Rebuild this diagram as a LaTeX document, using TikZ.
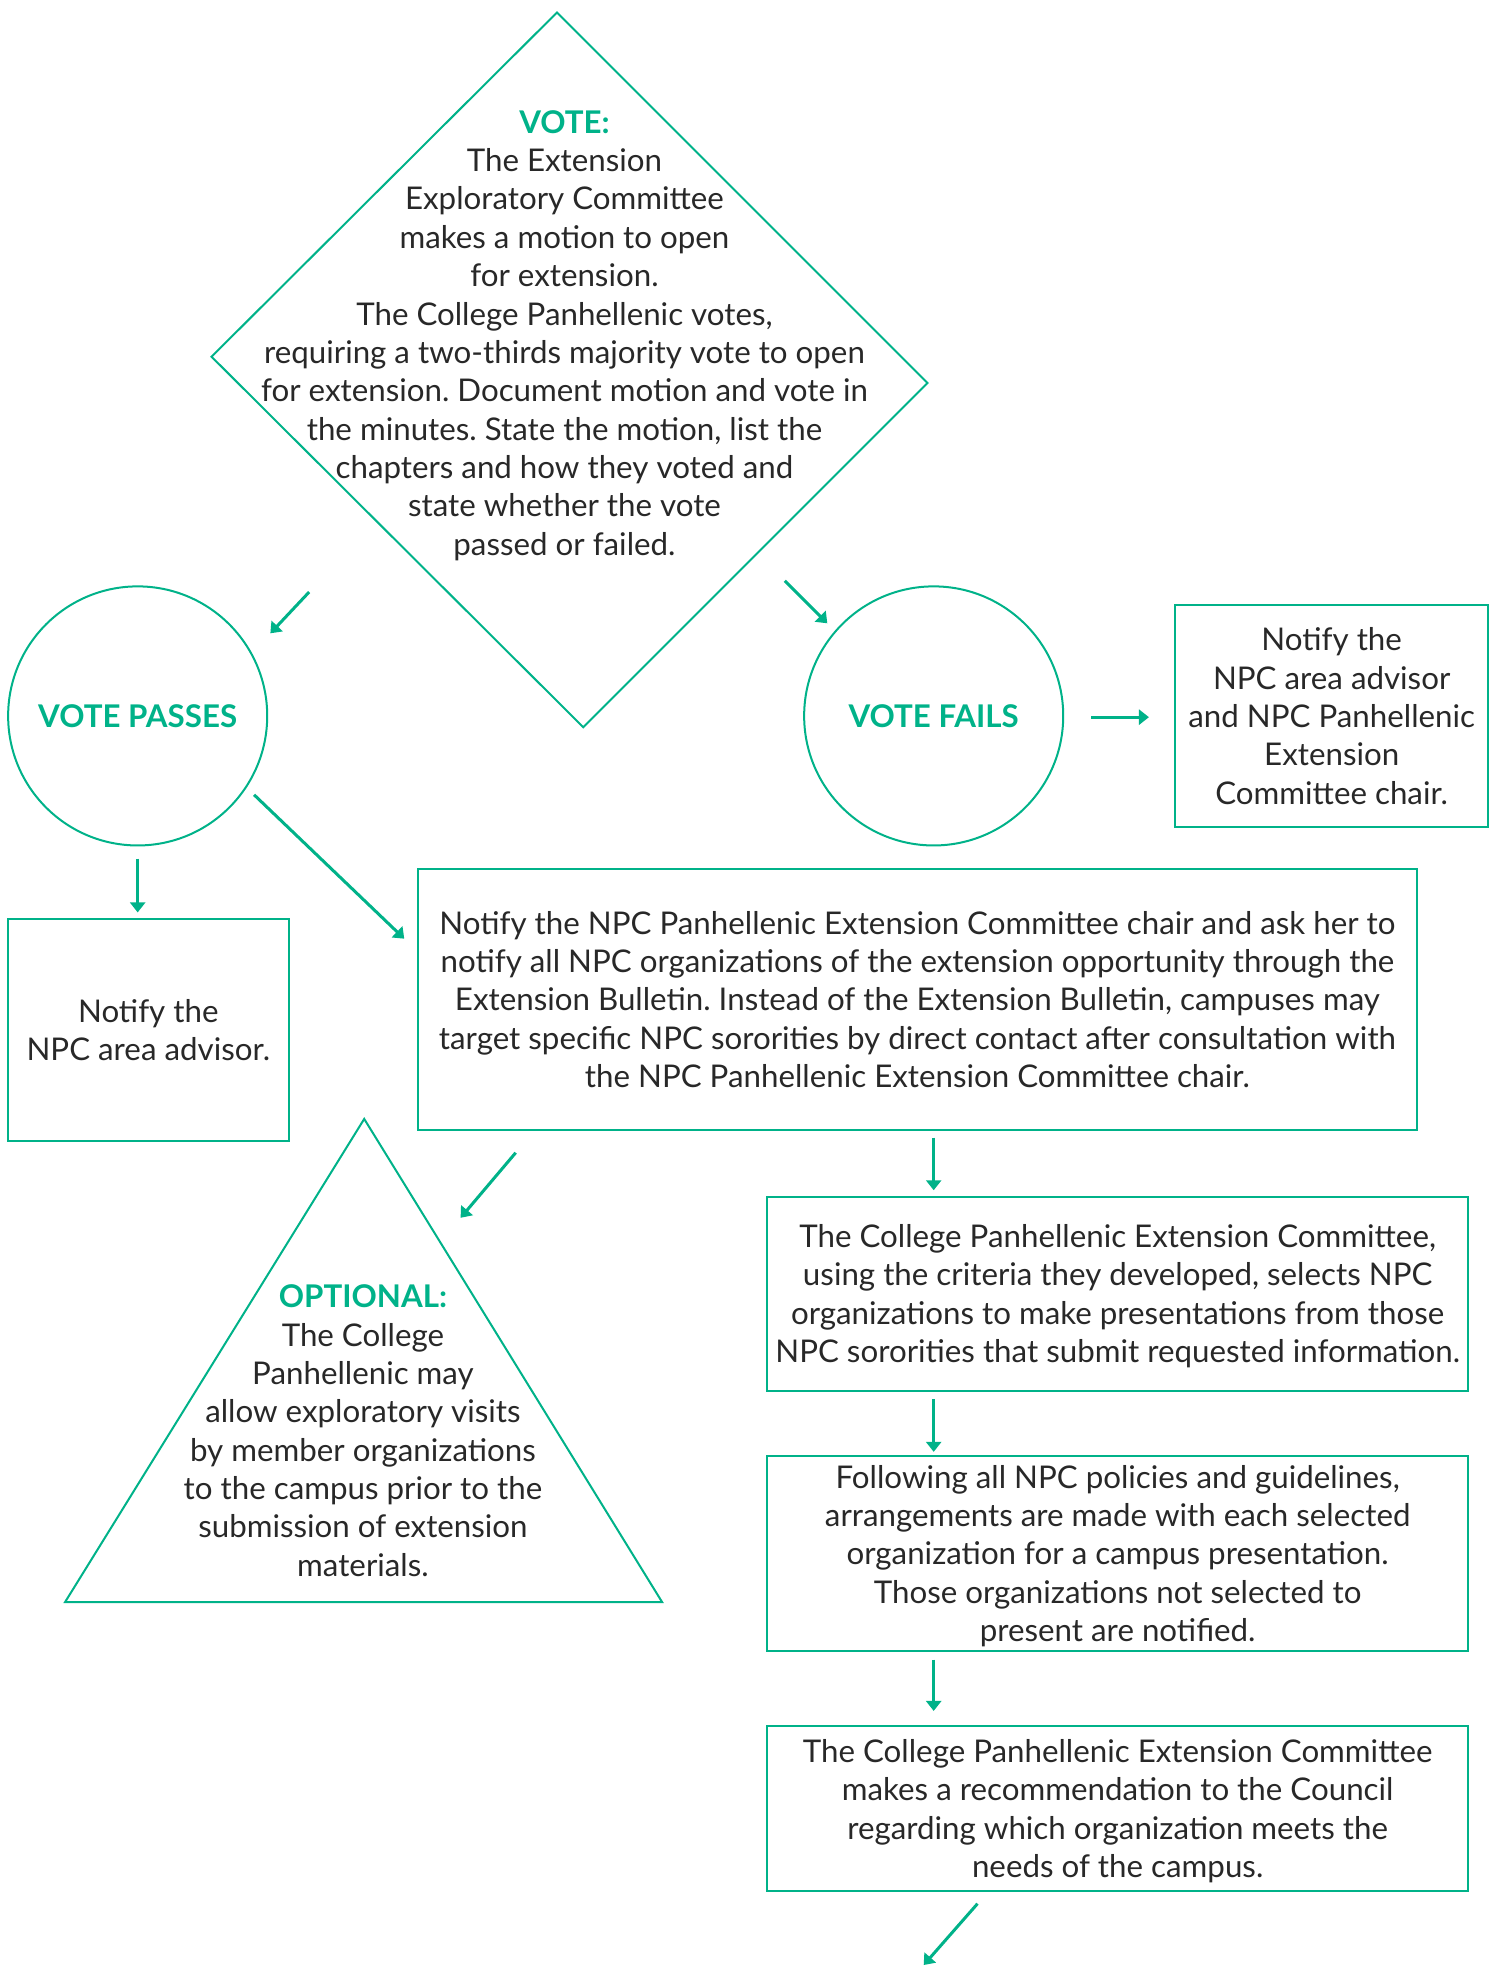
\documentclass[tikz,border=0pt]{standalone}
\usepackage{fontspec}
\setmainfont{Lato}
\frenchspacing
\usepackage{tikz}
\usetikzlibrary{arrows.meta}
\definecolor{npcgreen}{RGB}{0,178,137}
\definecolor{npcgrey}{RGB}{40,40,40}
\newcommand{\greenhead}[1]{{\color{npcgreen}\bfseries #1}}
\tikzset{
    txt/.style={
           align=center,
           text=npcgrey,
           inner sep=2pt,
           font=\fontsize{12.5}{15.32}\selectfont,
           },
}
\tikzset{
    box/.style={
           txt,
           rectangle,
           text depth=0pt,
           draw=npcgreen, line width=0.8pt,
           },
}
\tikzset{
    vote/.style={
           txt,
           circle,
           draw=npcgreen, line width=0.8pt,
           minimum size=103.5pt,
           },
}
\tikzset{
    outline/.style={
           draw=npcgreen, line width=0.8pt,
           },
}
\tikzset{
    flow/.style={
           -{Triangle[length=4pt,width=6pt]},
           npcgreen, line width=1.2pt,
           },
}

\begin{document}
\begin{tikzpicture}[x=0.5pt,y=-0.5pt]
\useasboundingbox (0,0) rectangle (1200,1570);
% vote diamond
\coordinate (Dt) at (445,10);
\coordinate (Dr) at (741,306);
\coordinate (Db) at (466,581);
\coordinate (Dl) at (169,285);
\draw[outline] (Dt) -- (Dr) -- (Db) -- (Dl) -- cycle;
\node[txt](VOTE) at (451,268){\greenhead{VOTE:}\\The Extension\\Exploratory Committee\\makes a motion to open\\for extension.\\The College Panhellenic votes,\\requiring a two-thirds majority vote to open\\for extension. Document motion and vote in\\the minutes. State the motion, list the\\chapters and how they voted and\\state whether the vote\\passed or failed.};
% outcomes
\node[vote](PASS) at (110,572){\greenhead{VOTE PASSES}};
\node[vote](FAIL) at (746,572){\greenhead{VOTE FAILS}};
\node[box,minimum width=125pt,minimum height=89pt](FAILN) at (1064,572){Notify the\\NPC area advisor\\and NPC Panhellenic\\Extension\\Committee chair.};
\node[box,minimum width=112.5pt,minimum height=89pt](AREA) at (118.5,823){Notify the\\NPC area advisor.};
\node[box,minimum width=399pt,minimum height=104.5pt](BULL) at (733,798.5){Notify the NPC Panhellenic Extension Committee chair and ask her to\\notify all NPC organizations of the extension opportunity through the\\Extension Bulletin. Instead of the Extension Bulletin, campuses may\\target specific NPC sororities by direct contact after consultation with\\the NPC Panhellenic Extension Committee chair.};
% optional triangle
\coordinate (Tt) at (291,894);
\coordinate (Tr) at (529,1280);
\coordinate (Tl) at (52,1280);
\draw[outline] (Tt) -- (Tr) -- (Tl) -- cycle;
\node[txt](OPT) at (290,1143){\greenhead{OPTIONAL:}\\The College\\Panhellenic may\\allow exploratory visits\\by member organizations\\to the campus prior to the\\submission of extension\\materials.};
% right column
\node[box,minimum width=280pt,minimum height=77.5pt](SEL) at (893,1033.5){The College Panhellenic Extension Committee,\\using the criteria they developed, selects NPC\\organizations to make presentations from those\\NPC sororities that submit requested information.};
\node[box,minimum width=280pt,minimum height=78pt](ARR) at (893,1241){Following all NPC policies and guidelines,\\arrangements are made with each selected\\organization for a campus presentation.\\Those organizations not selected to\\present are notified.};
\node[box,minimum width=280pt,minimum height=66pt](REC) at (893,1445){The College Panhellenic Extension Committee\\makes a recommendation to the Council\\regarding which organization meets the\\needs of the campus.};
% arrow ends
\coordinate (Pa) at (247,473);
\coordinate (Pb) at (216,506);
\coordinate (Fa) at (627,464);
\coordinate (Fb) at (661,498);
\coordinate (FNa) at (872,573);
\coordinate (FNb) at (918,573);
\coordinate (ARa) at (110,686);
\coordinate (ARb) at (110,729);
\coordinate (BUa) at (203,635);
\coordinate (BUb) at (323,750);
\coordinate (SEa) at (746,909);
\coordinate (SEb) at (746,951);
\coordinate (OPa) at (412,921);
\coordinate (OPb) at (368,973);
\coordinate (ARRa) at (746,1118);
\coordinate (ARRb) at (746,1160);
\coordinate (REa) at (746,1326);
\coordinate (REb) at (746,1367);
\coordinate (NXa) at (781,1521);
\coordinate (NXb) at (738,1570);
\path (Pa) edge[flow] (Pb);
\path (Fa) edge[flow] (Fb);
\path (FNa) edge[flow] (FNb);
\path (ARa) edge[flow] (ARb);
\path (BUa) edge[flow] (BUb);
\path (SEa) edge[flow] (SEb);
\path (OPa) edge[flow] (OPb);
\path (ARRa) edge[flow] (ARRb);
\path (REa) edge[flow] (REb);
\path (NXa) edge[flow] (NXb);
\end{tikzpicture}
\end{document}
